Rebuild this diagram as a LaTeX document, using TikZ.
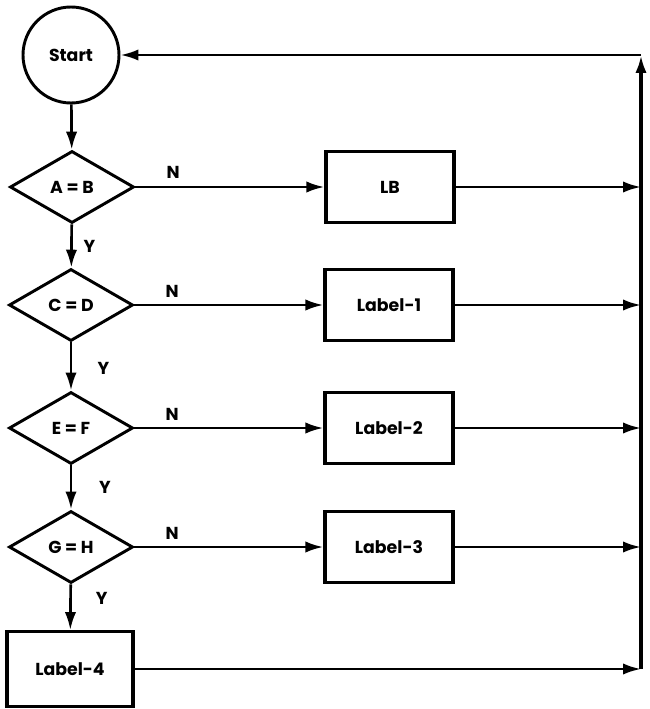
\documentclass[tikz,border=0pt]{standalone}
\usepackage{fontspec}
\setmainfont{Poppins}
\usetikzlibrary{shapes.geometric,arrows.meta}
\begin{document}
\begin{tikzpicture}[x=0.75pt,y=-0.75pt,
  every node/.style={font=\fontsize{13}{15}\selectfont\bfseries},
  dec/.style={draw,diamond,line width=2.2pt,inner sep=0pt,aspect=1.72,minimum width=93pt,minimum height=54pt},
  box/.style={draw,rectangle,line width=2.4pt,inner sep=0pt,minimum width=96pt,minimum height=53pt},
  arr/.style={line width=2pt,-{Latex[length=13.5pt,width=8.5pt]}},
  lbl/.style={inner sep=0pt}]
\useasboundingbox (0,0) rectangle (649,709);
\node[draw,circle,line width=2.2pt,minimum size=72pt,inner sep=0pt] (start) at (71,55) {Start};
\node[dec] (d1) at (72,187) {A = B};
\node[dec] (d2) at (71,305) {C = D};
\node[dec] (d3) at (71,428) {E = F};
\node[dec] (d4) at (71,547) {G = H};
\node[box] (lb) at (390,187) {LB};
\node[box] (l1) at (389,305) {Label-1};
\node[box] (l2) at (389,428) {Label-2};
\node[box] (l3) at (389,547) {Label-3};
\node[box,minimum width=94.5pt,minimum height=56pt] (l4) at (70,669) {Label-4};
\coordinate (b0) at (641,55);
\coordinate (b1) at (641,187);
\coordinate (b2) at (641,305);
\coordinate (b3) at (641,428);
\coordinate (b4) at (641,547);
\coordinate (b5) at (641,669);
\draw[arr] (start) -- (d1);
\draw[arr] (d1) -- (d2) node[lbl,pos=0.5,right=8pt] {Y};
\draw[arr] (d2) -- (d3) node[lbl,pos=0.55,right=19pt] {Y};
\draw[arr] (d3) -- (d4) node[lbl,pos=0.5,right=20pt] {Y};
\draw[arr] (d4) -- (l4) node[lbl,pos=0.3,right=18pt] {Y};
\draw[arr] (d1.east) -- (lb.west) node[lbl,pos=0.2,above=5pt] {N};
\draw[arr] (d2.east) -- (l1.west) node[lbl,pos=0.2,above=5pt] {N};
\draw[arr] (d3.east) -- (l2.west) node[lbl,pos=0.2,above=5pt] {N};
\draw[arr] (d4.east) -- (l3.west) node[lbl,pos=0.2,above=5pt] {N};
\draw[arr] (lb.east) -- (b1);
\draw[arr] (l1.east) -- (b2);
\draw[arr] (l2.east) -- (b3);
\draw[arr] (l3.east) -- (b4);
\draw[arr] (l4.east) -- (b5);
\draw[line width=2.8pt,-{Latex[length=13.5pt,width=8.5pt]}] (b5) -- (b0);
\draw[arr] (b0) -- (start);
\end{tikzpicture}
\end{document}
